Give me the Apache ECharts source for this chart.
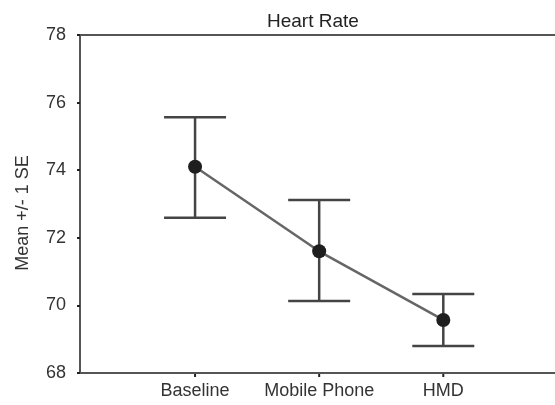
<!doctype html>
<html lang="en">
<head>
    <meta charset="UTF-8">
    <title>Heart Rate</title>
    <script src="https://cdn.jsdelivr.net/npm/echarts@6/dist/echarts.min.js"></script>
    <style>
        html, body { margin: 0; padding: 0; background: #fff; }
        #chart { width: 555px; height: 405px; }
    </style>
</head>
<body>
<div id="chart"></div>
<script>
    // data
    var categories = ['Baseline', 'Mobile Phone', 'HMD'];
    var catPos = [1, 2, 3];
    var means = [74.1, 71.6, 69.57];
    var upper = [75.57, 73.12, 70.34];
    var lower = [72.59, 70.13, 68.8];
    var yTicks = [68, 70, 72, 74, 76, 78];

    var lineData = [], barData = [];
    for (var i = 0; i < categories.length; i++) {
        lineData.push([catPos[i], means[i]]);
        barData.push([catPos[i], lower[i], upper[i]]);
    }

    var axisColor = '#555';
    var textColor = '#333';
    var font = 'Liberation Sans, Arial, sans-serif';

    var myChart = echarts.init(document.getElementById('chart'));
    var option = {
        animation: false,
        backgroundColor: '#fff',
        title: {
            text: 'Heart Rate',
            left: 262,
            top: 7,
            textStyle: { fontFamily: font, fontSize: 19, fontWeight: 'normal', color: '#222' }
        },
        grid: { left: 80, right: 0, top: 35, bottom: 32 },
        xAxis: [{
            type: 'value',
            min: 0.073,
            max: 3.9,
            splitLine: { show: false },
            axisLine: { lineStyle: { color: axisColor, width: 2 } },
            axisTick: { show: false },
            axisLabel: { show: false }
        }, {
            type: 'value',
            position: 'top',
            min: 0.073,
            max: 3.9,
            splitLine: { show: false },
            axisLine: { lineStyle: { color: axisColor, width: 2 } },
            axisTick: { show: false },
            axisLabel: { show: false }
        }],
        yAxis: {
            type: 'value',
            min: 68,
            max: 78,
            interval: 2,
            name: 'Mean +/- 1 SE',
            nameLocation: 'middle',
            nameGap: 48,
            nameTextStyle: { fontFamily: font, fontSize: 18, color: textColor, padding: [0, 18, 0, 0] },
            splitLine: { show: false },
            axisLine: { show: true, lineStyle: { color: axisColor, width: 2 } },
            axisTick: { show: true, length: 3, lineStyle: { color: '#222', width: 2 } },
            axisLabel: {
                fontFamily: font, fontSize: 18, color: textColor, margin: 14,
                formatter: function (v) { return yTicks.indexOf(v) >= 0 ? v : ''; }
            }
        },
        series: [{
            type: 'custom',
            xAxisIndex: 0,
            data: barData,
            z: 2,
            renderItem: function (params, api) {
                var x = api.value(0);
                var lo = api.coord([x, api.value(1)]);
                var hi = api.coord([x, api.value(2)]);
                var half = 31;
                var style = { stroke: '#444', lineWidth: 2.5, fill: null };
                return {
                    type: 'group',
                    children: [
                        { type: 'line', shape: { x1: hi[0], y1: hi[1], x2: lo[0], y2: lo[1] }, style: style },
                        { type: 'line', shape: { x1: hi[0] - half, y1: hi[1], x2: hi[0] + half, y2: hi[1] }, style: style },
                        { type: 'line', shape: { x1: lo[0] - half, y1: lo[1], x2: lo[0] + half, y2: lo[1] }, style: style }
                    ]
                };
            }
        }, {
            // category labels and ticks under the x axis
            type: 'custom',
            xAxisIndex: 0,
            data: lineData,
            z: 2,
            renderItem: function (params, api) {
                var x = api.value(0);
                var p = api.coord([x, 68]);
                return {
                    type: 'group',
                    children: [
                        { type: 'line', shape: { x1: p[0], y1: p[1] + 1, x2: p[0], y2: p[1] + 4 }, style: { stroke: '#222', lineWidth: 2 } },
                        { type: 'text', x: p[0], y: p[1] + 9, style: {
                            text: categories[params.dataIndex], fontFamily: font, fontSize: 18,
                            fill: textColor, align: 'center', verticalAlign: 'top'
                        } }
                    ]
                };
            }
        }, {
            type: 'line',
            xAxisIndex: 0,
            data: lineData,
            z: 3,
            symbol: 'circle',
            symbolSize: 14,
            itemStyle: { color: '#1e1e1e' },
            lineStyle: { color: '#666', width: 2.5 }
        }]
    };
    myChart.setOption(option);
</script>
</body>
</html>
